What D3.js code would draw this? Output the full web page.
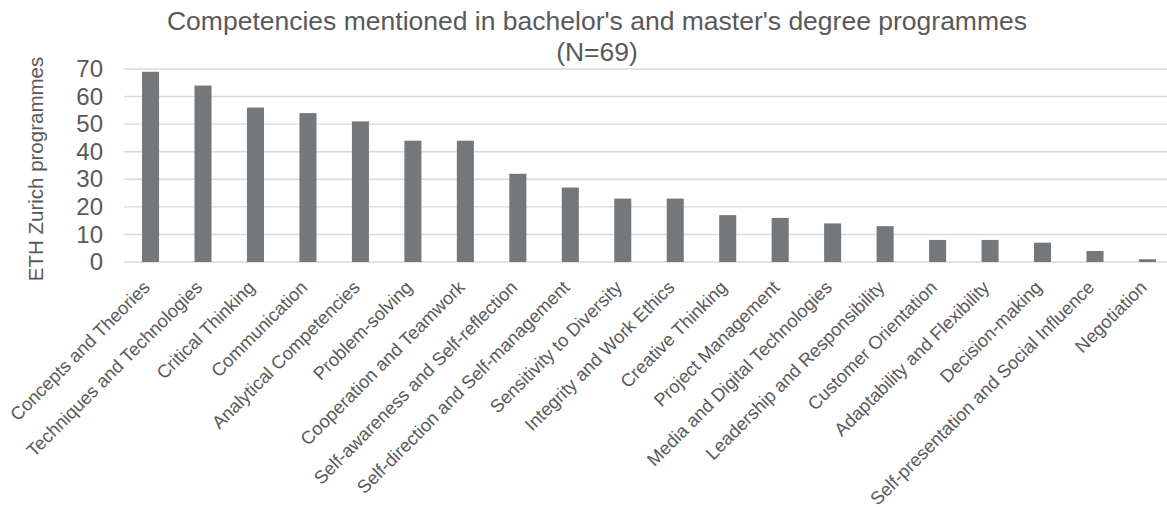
<!DOCTYPE html>
<html>
<head>
<meta charset="utf-8">
<script src="https://cdn.jsdelivr.net/npm/d3@7"></script>
<style>
  html, body { margin: 0; padding: 0; background: #fff; }
  svg { display: block; font-family: "Liberation Sans", Arial, sans-serif; }
</style>
</head>
<body>
<div id="chart"></div>
<script>
var categories = [
    'Concepts and Theories', 'Techniques and Technologies', 'Critical Thinking',
    'Communication', 'Analytical Competencies', 'Problem-solving',
    'Cooperation and Teamwork', 'Self-awareness and Self-reflection',
    'Self-direction and Self-management', 'Sensitivity to Diversity',
    'Integrity and Work Ethics', 'Creative Thinking', 'Project Management',
    'Media and Digital Technologies', 'Leadership and Responsibility',
    'Customer Orientation', 'Adaptability and Flexibility', 'Decision-making',
    'Self-presentation and Social Influence', 'Negotiation'
];
var counts = [69, 64, 56, 54, 51, 44, 44, 32, 27, 23, 23, 17, 16, 14, 13, 8, 8, 7, 4, 1];
var yTicks = [0, 10, 20, 30, 40, 50, 60, 70];
var titleLines = ["Competencies mentioned in bachelor's and master's degree programmes", '(N=69)'];
var yTitle = 'ETH Zurich programmes';

var width = 1167, height = 507;
var textColor = '#595959';
var gridColor = '#d9d9d9';
var barColor = '#75787b';

var svg = d3.select('#chart')
    .append('svg')
    .attr('width', width)
    .attr('height', height);

// plot area runs slightly past the right edge (picture is cropped)
var x = d3.scaleBand()
    .domain(categories)
    .range([124.3, 1173.7])
    .paddingInner(0.675)
    .paddingOuter(0.3375);

var y = d3.scaleLinear()
    .domain([0, 70])
    .range([262, 69]);

// title
svg.append('g')
    .selectAll('text')
    .data(titleLines)
    .join('text')
    .attr('x', 597)
    .attr('y', function(d, i) { return 30 + i * 31; })
    .attr('text-anchor', 'middle')
    .attr('font-size', '26.5px')
    .attr('fill', textColor)
    .text(function(d) { return d; });

// gridlines
svg.append('g')
    .selectAll('line')
    .data(yTicks)
    .join('line')
    .attr('x1', 124)
    .attr('x2', 1174)
    .attr('y1', function(d) { return y(d); })
    .attr('y2', function(d) { return y(d); })
    .attr('stroke', gridColor)
    .attr('stroke-width', 1.4);

// y axis labels
var yAxis = d3.axisLeft(y).tickValues(yTicks).tickSize(0).tickPadding(21);
var yg = svg.append('g')
    .attr('transform', 'translate(124,0)')
    .call(yAxis);
yg.select('.domain').remove();
yg.selectAll('text')
    .attr('font-family', null)
    .attr('font-size', '24px')
    .attr('fill', textColor);

svg.append('text')
    .attr('transform', 'translate(43,169) rotate(-90)')
    .attr('text-anchor', 'middle')
    .attr('font-size', '20.5px')
    .attr('fill', textColor)
    .text(yTitle);

// bars
svg.append('g')
    .selectAll('rect')
    .data(counts)
    .join('rect')
    .attr('x', function(d, i) { return x(categories[i]); })
    .attr('width', x.bandwidth())
    .attr('y', function(d) { return y(d); })
    .attr('height', function(d) { return y(0) - y(d); })
    .attr('fill', barColor);

// category labels
var xAxis = d3.axisBottom(x).tickSize(0).tickPadding(0);
var xg = svg.append('g')
    .attr('transform', 'translate(0,' + y(0) + ')')
    .call(xAxis);
xg.select('.domain').remove();
xg.selectAll('text')
    .attr('font-family', null)
    .attr('font-size', '18.3px')
    .attr('fill', textColor)
    .attr('text-anchor', 'end')
    .attr('y', 0)
    .attr('dy', '0.35em')
    .attr('transform', 'translate(-4,22) rotate(-45)');
</script>
</body>
</html>
